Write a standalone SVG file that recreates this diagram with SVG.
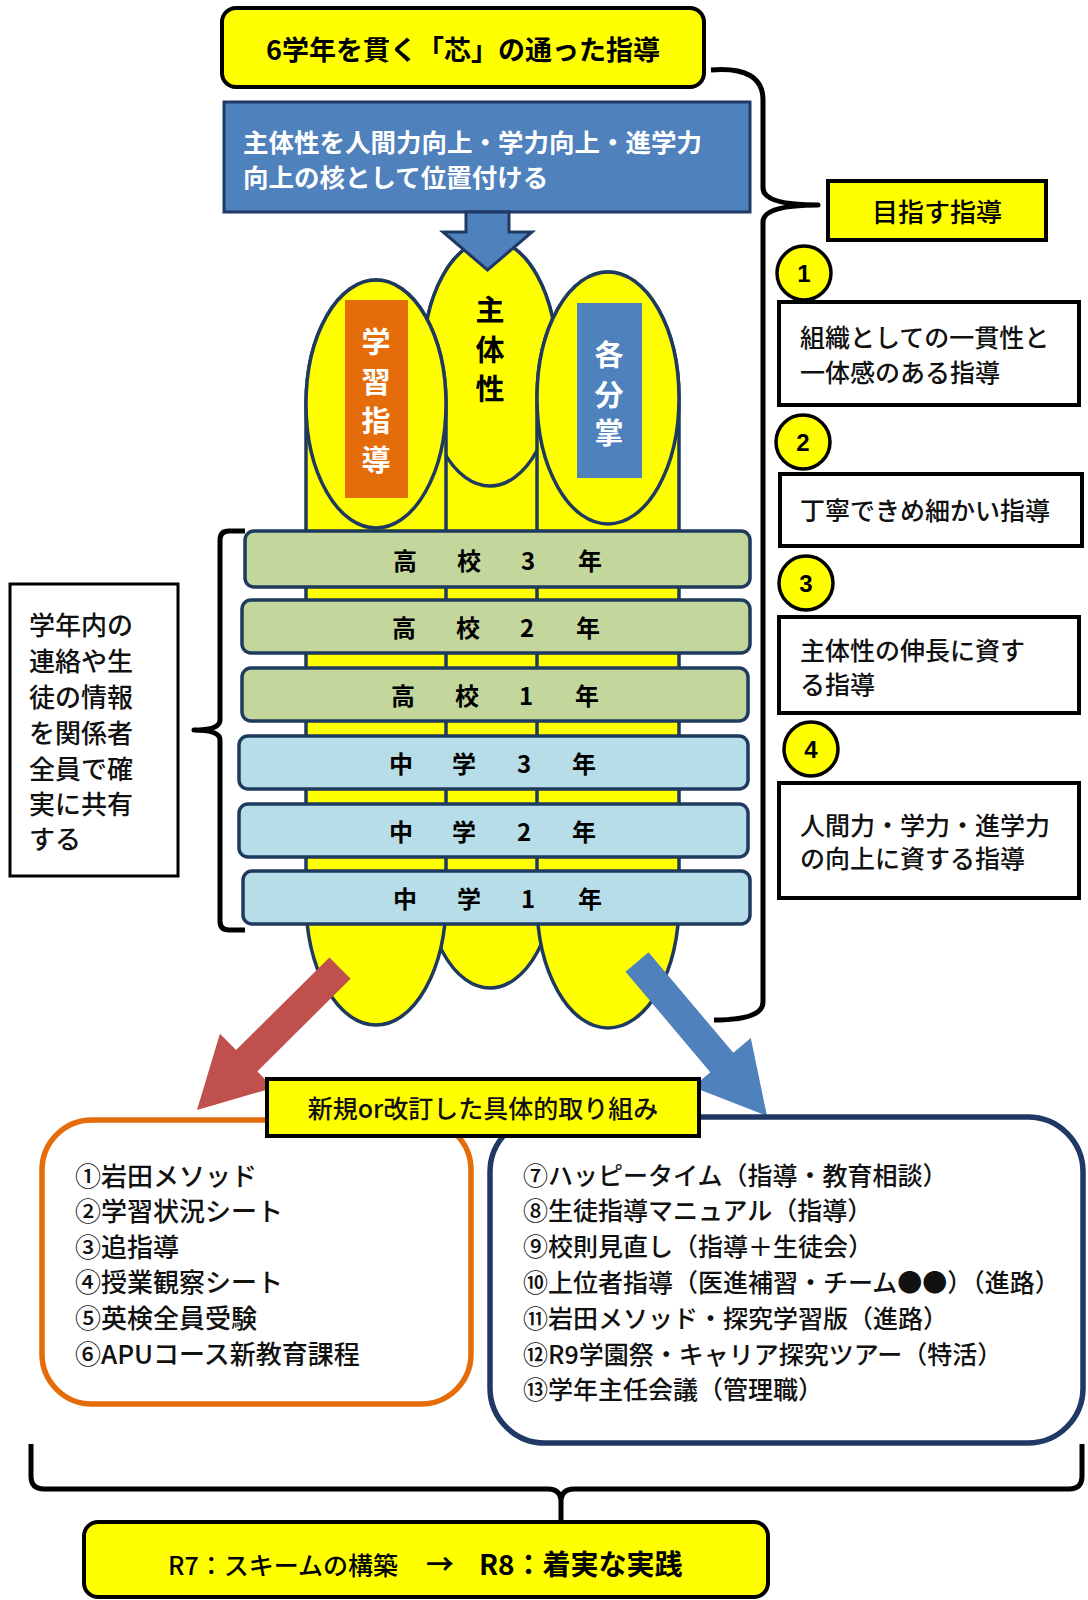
<svg xmlns="http://www.w3.org/2000/svg" width="1088" height="1600" viewBox="0 0 1088 1600">
<style>
text{font-family:"Noto Sans CJK JP","Noto Sans",sans-serif;dominant-baseline:central}
.b{font-weight:700}
.m{font-weight:500}
.pil{fill:#FFFF00;stroke:#1F3A5F;stroke-width:3.5}
.bar{stroke:#1F3A5F;stroke-width:3.5}
.g{fill:#C3D69B}
.lb{fill:#B7DEE8}
.bt{font-size:24px;font-weight:700;text-anchor:middle;fill:#000}
.box{fill:#fff;stroke:#000;stroke-width:4}
.yel{fill:#FFFF00;stroke:#000;stroke-width:4}
.num{fill:#FFFF00;stroke:#000;stroke-width:3.5}
.numt{font-size:24px;font-weight:700;text-anchor:middle;font-family:"Liberation Sans",sans-serif}
.t25{font-size:25px;fill:#111;font-weight:500}
.tl{font-size:26px;fill:#111;font-weight:500}
.tr{font-size:25px;fill:#111;font-weight:500}
.brace{fill:none;stroke:#000;stroke-width:5;stroke-linejoin:round;stroke-linecap:butt}
.vt{font-size:29px;font-weight:700;text-anchor:middle}
</style>

<g id="pillars">
  <path class="pil" d="M423,363 A67,123 0 0 1 557,363 L557,865 A67,123 0 0 1 423,865 Z"/>
  <ellipse class="pil" cx="490" cy="363" rx="67" ry="123"/>
  <path class="pil" d="M306,404 A70,124 0 0 1 446,404 L446,900 A70,125 0 0 1 306,900 Z"/>
  <ellipse class="pil" cx="376" cy="404" rx="70" ry="124"/>
  <path class="pil" d="M537,398 A71,126 0 0 1 679,398 L679,902 A71,126 0 0 1 537,902 Z"/>
  <ellipse class="pil" cx="608" cy="398" rx="71" ry="126"/>
</g>

<g id="pillar-labels">
  <rect x="345" y="300" width="63" height="198" fill="#E46C0A"/>
  <text class="vt" fill="#fff"><tspan x="376" y="340">学</tspan><tspan x="376" y="380">習</tspan><tspan x="376" y="419">指</tspan><tspan x="376" y="458">導</tspan></text>
  <text class="vt" fill="#000"><tspan x="490" y="308">主</tspan><tspan x="490" y="348">体</tspan><tspan x="490" y="387">性</tspan></text>
  <rect x="577" y="303" width="65" height="175" fill="#4F81BD"/>
  <text class="vt" fill="#fff"><tspan x="609" y="353">各</tspan><tspan x="609" y="393">分</tspan><tspan x="609" y="431">掌</tspan></text>
</g>

<g id="grades">
  <g id="hs3"><rect class="bar g" x="245" y="531" width="505" height="56" rx="9"/><text class="bt" x="405 469 528 590" y="559">高校3年</text></g>
  <g id="hs2"><rect class="bar g" x="242" y="600" width="508" height="53" rx="9"/><text class="bt" x="404 468 527 588" y="626">高校2年</text></g>
  <g id="hs1"><rect class="bar g" x="242" y="668" width="506" height="53" rx="9"/><text class="bt" x="403 467 526 587" y="694">高校1年</text></g>
  <g id="jh3"><rect class="bar lb" x="239" y="736" width="509" height="53" rx="9"/><text class="bt" x="401 464 524 584" y="762">中学3年</text></g>
  <g id="jh2"><rect class="bar lb" x="239" y="804" width="509" height="53" rx="9"/><text class="bt" x="401 464 524 584" y="830">中学2年</text></g>
  <g id="jh1"><rect class="bar lb" x="243" y="871" width="507" height="53" rx="9"/><text class="bt" x="405 469 528 590" y="897">中学1年</text></g>
</g>

<g id="blue-box">
  <rect x="224" y="102" width="526" height="110" fill="#4F81BD" stroke="#1F3864" stroke-width="3"/>
  <text class="b" font-size="25.5" fill="#fff" x="243" y="140">主体性を人間力向上・学力向上・進学力</text>
  <text class="b" font-size="25.5" fill="#fff" x="243" y="175">向上の核として位置付ける</text>
</g>

<g id="connectors">
  <polygon points="466,212 509,212 509,232 532,232 487.5,270 443,232 466,232" fill="#4F81BD" stroke="#1F3864" stroke-width="3"/>
  <polygon points="329.4,957.4 236.1,1050 219.9,1033.7 197,1110 273.5,1087.7 257.3,1071.4 350.6,978.7" fill="#C0504D"/>
  <polygon points="625.5,971.7 710.3,1072.2 692.8,1087 767,1116 750.8,1038 733.3,1052.8 648.5,952.3" fill="#4F81BD"/>
  <path class="brace" d="M711,70 Q763,66 763,100 L763,188 Q763,205 818,205 Q763,205 763,222 L763,1002 Q763,1020 714,1020"/>
  <path class="brace" d="M245,531 L229,531 Q220,531 220,540 L220,720 Q220,730 194,730 Q220,730 220,740 L220,921 Q220,930 229,930 L245,930"/>
  <path class="brace" d="M31,1444 L31,1476 Q31,1489 44,1489 L548,1489 Q561,1489 561,1502 L561,1537 M561,1502 Q561,1489 574,1489 L1069,1489 Q1082,1489 1082,1476 L1082,1444"/>
</g>

<g id="title">
  <rect class="yel" x="222" y="8" width="482" height="79" rx="14"/>
  <text class="b" font-size="27" x="463" y="48" text-anchor="middle">6学年を貫く「芯」の通った指導</text>
</g>

<g id="goal">
  <rect class="yel" x="828" y="181" width="218" height="59"/>
  <text class="m" font-size="26" x="937" y="210" text-anchor="middle">目指す指導</text>
</g>

<g id="goal1">
  <circle class="num" cx="804" cy="273" r="27"/><text class="numt" x="804" y="273">1</text>
  <rect class="box" x="779" y="302" width="300" height="103"/>
  <text class="t25" x="800" y="336">組織としての一貫性と</text>
  <text class="t25" x="800" y="371">一体感のある指導</text>
</g>
<g id="goal2">
  <circle class="num" cx="803" cy="442" r="27"/><text class="numt" x="803" y="442">2</text>
  <rect class="box" x="780" y="474" width="302" height="72"/>
  <text class="t25" x="800" y="509">丁寧できめ細かい指導</text>
</g>
<g id="goal3">
  <circle class="num" cx="806" cy="583" r="27"/><text class="numt" x="806" y="583">3</text>
  <rect class="box" x="779" y="617" width="300" height="96"/>
  <text class="t25" x="800" y="649">主体性の伸長に資す</text>
  <text class="t25" x="800" y="683">る指導</text>
</g>
<g id="goal4">
  <circle class="num" cx="811" cy="749" r="27"/><text class="numt" x="811" y="749">4</text>
  <rect class="box" x="779" y="783" width="300" height="115"/>
  <text class="t25" x="800" y="824">人間力・学力・進学力</text>
  <text class="t25" x="800" y="857">の向上に資する指導</text>
</g>

<g id="share">
  <rect x="10" y="584" width="168" height="292" fill="#fff" stroke="#000" stroke-width="3"/>
  <text class="m" font-size="26" fill="#111"><tspan x="29" y="623">学年内の</tspan><tspan x="29" y="659">連絡や生</tspan><tspan x="29" y="695">徒の情報</tspan><tspan x="29" y="731">を関係者</tspan><tspan x="29" y="767">全員で確</tspan><tspan x="29" y="802">実に共有</tspan><tspan x="29" y="837">する</tspan></text>
</g>

<g id="orange-list">
  <rect x="42" y="1120" width="429" height="284" rx="50" fill="#fff" stroke="#E46C0A" stroke-width="5.5"/>
  <text class="tl"><tspan x="75" y="1174">①岩田メソッド</tspan><tspan x="75" y="1209">②学習状況シート</tspan><tspan x="75" y="1245">③追指導</tspan><tspan x="75" y="1280">④授業観察シート</tspan><tspan x="75" y="1316">⑤英検全員受験</tspan><tspan x="75" y="1352">⑥APUコース新教育課程</tspan></text>
</g>

<g id="navy-list">
  <rect x="490" y="1117" width="593" height="326" rx="55" fill="#fff" stroke="#1F3864" stroke-width="5.5"/>
  <text class="tr"><tspan x="523" y="1174">⑦ハッピータイム（指導・教育相談）</tspan><tspan x="523" y="1209">⑧生徒指導マニュアル（指導）</tspan><tspan x="523" y="1245">⑨校則見直し（指導＋生徒会）</tspan><tspan x="523" y="1281">⑩上位者指導（医進補習・チーム●●）（進路）</tspan><tspan x="523" y="1317">⑪岩田メソッド・探究学習版（進路）</tspan><tspan x="523" y="1353">⑫R9学園祭・キャリア探究ツアー（特活）</tspan><tspan x="523" y="1388">⑬学年主任会議（管理職）</tspan></text>
</g>

<g id="label-new">
  <rect class="yel" x="267" y="1079" width="432" height="57"/>
  <text class="t25" fill="#000" x="483" y="1107" text-anchor="middle">新規or改訂した具体的取り組み</text>
</g>

<g id="result">
  <rect class="yel" x="84" y="1522" width="684" height="75" rx="14"/>
  <text class="m" font-size="25" x="168" y="1564">R7：スキームの構築</text>
  <text class="b" font-size="28" x="426" y="1563">→</text>
  <text class="b" font-size="28" x="479" y="1563">R8：着実な実践</text>
</g>
</svg>
